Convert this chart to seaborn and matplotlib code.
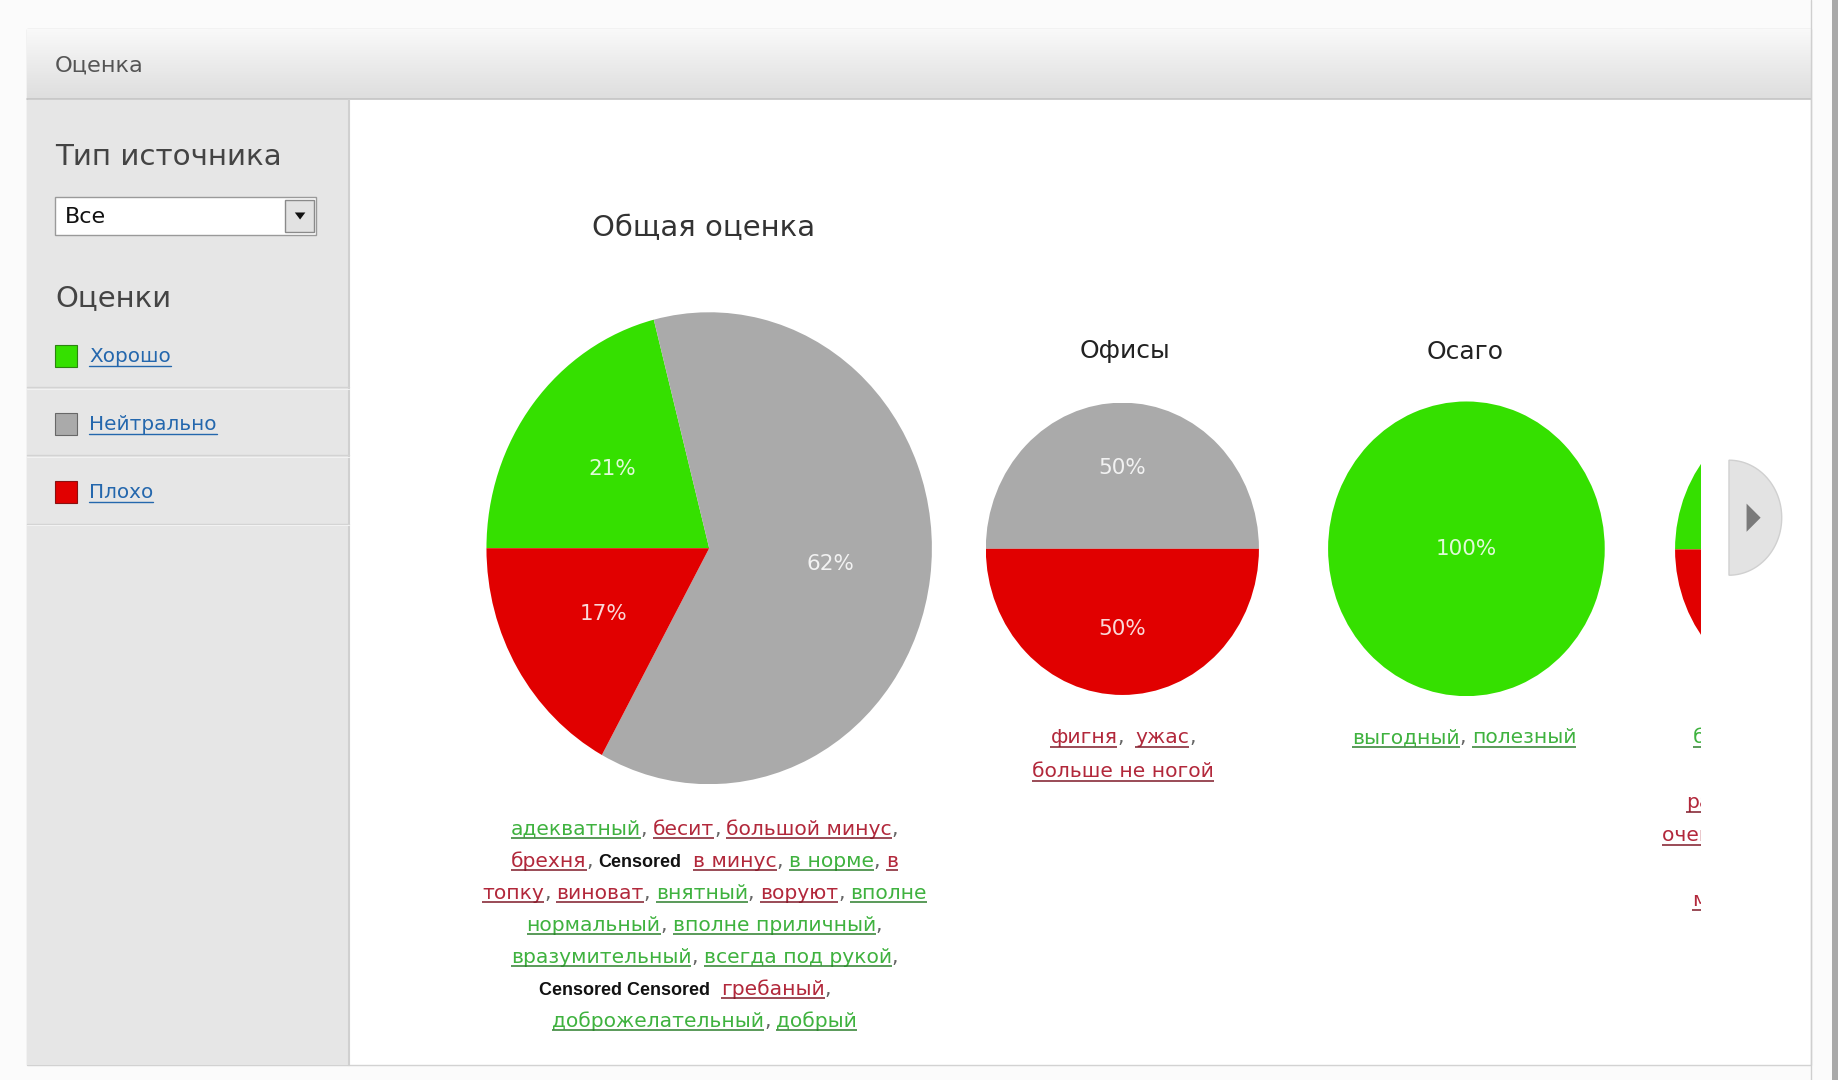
import numpy as np
import matplotlib
matplotlib.use("Agg")
import matplotlib.pyplot as plt
import seaborn as sns
from matplotlib.patches import Rectangle, Polygon
from matplotlib.colors import LinearSegmentedColormap
from matplotlib.transforms import Bbox

# ---------------- data ----------------
categories = ["Хорошо", "Нейтрально", "Плохо"]
pie_titles = ["Общая оценка", "Офисы", "Осаго", "Сервис"]
total_vals = [21, 62, 17]
offices_vals = [0, 50, 50]
osago_vals = [100, 0, 0]
fourth_vals = [50, 0, 50]
source_types = ["Все"]

total_keywords = [
    [("g", "адекватный"), ("p", ","), ("s", " "), ("r", "бесит"), ("p", ","), ("s", " "), ("r", "большой минус"), ("p", ",")],
    [("r", "брехня"), ("p", ","), ("s", " "), ("c", "Censored"), ("s", "  "), ("r", "в минус"), ("p", ","), ("s", " "), ("g", "в норме"), ("p", ","), ("s", " "), ("r", "в")],
    [("r", "топку"), ("p", ","), ("s", " "), ("r", "виноват"), ("p", ","), ("s", " "), ("g", "внятный"), ("p", ","), ("s", " "), ("r", "воруют"), ("p", ","), ("s", " "), ("g", "вполне")],
    [("g", "нормальный"), ("p", ","), ("s", " "), ("g", "вполне приличный"), ("p", ",")],
    [("g", "вразумительный"), ("p", ","), ("s", " "), ("g", "всегда под рукой"), ("p", ",")],
    [("c", "Censored Censored"), ("s", "  "), ("r", "гребаный"), ("p", ","), ("s", "       ")],
    [("g", "доброжелательный"), ("p", ","), ("s", " "), ("g", "добрый")],
]
offices_keywords = [
    [("r", "фигня"), ("p", ","), ("s", "  "), ("r", "ужас"), ("p", ",")],
    [("r", "больше не ногой")],
]
osago_keywords = [
    [("g", "выгодный"), ("p", ","), ("s", " "), ("g", "полезный")],
]
fourth_keywords = [
    [("g", "бесплатный"), ("p", ","), ("s", " "), ("g", "быстрый"), ("p", ",")],
    [("g", "выплатили"), ("p", ",")],
    [("r", "развод"), ("p", ","), ("s", " "), ("r", "разочарование"), ("p", ",")],
    [("r", "очень долго"), ("p", ","), ("s", " "), ("r", "отказываются"), ("p", ",")],
    [("r", "плохой"), ("p", ",")],
    [("r", "мошенники"), ("p", ","), ("s", " "), ("r", "медленно")],
]

# ---------------- style ----------------
sns.set_theme(style="white")
plt.rcParams["font.family"] = ["DejaVu Sans"]
palette = sns.color_palette(["#35e000", "#aaaaaa", "#e10000"])
cat_colors = dict(zip(categories, palette))

W, H = 1568, 920
SX = 1838 / W
SY = 1080 / H
fig = plt.figure(figsize=(18.38, 10.80), dpi=100, facecolor="#fbfbfb")
bg = fig.add_axes([0, 0, 1, 1])
bg.set_xlim(0, W)
bg.set_ylim(H, 0)
bg.axis("off")
renderer = fig.canvas.get_renderer()


def text_width(t):
    return t.get_window_extent(renderer).width / SX


# ---------------- page chrome ----------------
bg.add_patch(Rectangle((23, 25), 1522, 882, facecolor="white", edgecolor="#d2d2d2", lw=1.0, zorder=0))
hdr_cmap = LinearSegmentedColormap.from_list("hdr", ["#f9f9f9", "#dedede"])
bg.imshow(np.linspace(0, 1, 60).reshape(-1, 1), extent=(23, 1545, 84, 25), cmap=hdr_cmap,
          aspect="auto", zorder=1)
bg.plot([23, 1545], [84, 84], color="#c4c4c4", lw=1.2, zorder=2)
bg.text(47, 56, "Оценка", fontsize=16.2, color="#555555", va="center", ha="left", zorder=3)

# sidebar
bg.add_patch(Rectangle((23, 85), 275, 822, facecolor="#e6e6e6", edgecolor="none", zorder=1))
bg.plot([298, 298], [85, 907], color="#d0d0d0", lw=1.5, zorder=2)
bg.text(47, 134, "Тип источника", fontsize=21.2, color="#444444", va="center", ha="left", zorder=3)
bg.add_patch(Rectangle((47, 168), 223, 32, facecolor="white", edgecolor="#9a9a9a", lw=1, zorder=3))
bg.add_patch(Rectangle((243, 170), 25, 28, facecolor="#e2e2e2", edgecolor="#8a8a8a", lw=1, zorder=4))
bg.add_patch(Polygon([(251.5, 181), (260.5, 181), (256, 187)], closed=True, facecolor="#111111",
                     edgecolor="none", zorder=5))
bg.text(55, 185, source_types[0], fontsize=16, color="#111111", va="center", ha="left", zorder=4)
bg.text(47, 254, "Оценки", fontsize=21, color="#444444", va="center", ha="left", zorder=3)

for i, cat in enumerate(categories):
    yc = 303 + i * 58
    bg.add_patch(Rectangle((47, yc - 9.5), 19, 19, facecolor=cat_colors[cat],
                           edgecolor=sns.dark_palette(cat_colors[cat], 3)[1], lw=0.8, zorder=3))
    t = bg.text(76, yc + 5.5, cat, fontsize=14.4, color="#2467ad", va="baseline", ha="left", zorder=3)
    w = text_width(t)
    bg.plot([76, 76 + w], [yc + 8.5, yc + 8.5], color="#2467ad", lw=1.0, zorder=3)
    bg.plot([23, 298], [yc + 27, yc + 27], color="#d3d3d3", lw=1.0, zorder=2)
    bg.plot([23, 298], [yc + 28.5, yc + 28.5], color="#f2f2f2", lw=0.8, zorder=2)

# right edge details
bg.plot([1545, 1545], [0, 920], color="#cfcfcf", lw=1.0, zorder=2)
bg.add_patch(Rectangle((1563, 0), 6, 920, facecolor="#a9a9a9", edgecolor="none", zorder=2))

# ---------------- pies ----------------
def pie_axes(cx, cy, rx, ry, clip_right=None):
    right = cx + rx if clip_right is None else clip_right
    left = cx - rx
    ax = fig.add_axes([left / W, 1 - (cy + ry) / H, (right - left) / W, 2 * ry / H])
    return ax, (-1, -1 + (right - left) / rx)


def draw_pie(values, cx, cy, rx, ry, clip_right=None):
    ax, xl = pie_axes(cx, cy, rx, ry, clip_right)
    vals = [v for v in values if v > 0]
    cols = [cat_colors[c] for c, v in zip(categories, values) if v > 0]
    pd_ = 0.0 if len(vals) == 1 else 0.55
    wedges, texts, autotexts = ax.pie(
        vals, colors=cols, startangle=180, counterclock=False, radius=1.0,
        autopct=lambda p: f"{p:.0f}%", pctdistance=pd_,
        wedgeprops=dict(linewidth=0, edgecolor="none"),
        textprops=dict(color="white", alpha=0.85, fontsize=15.5))
    ax.set_aspect("auto")
    ax.set_xlim(*xl)
    ax.set_ylim(-1, 1)
    ax.axis("off")
    for wdg in wedges:
        wdg.set_clip_on(True)
        wdg.set_clip_path(ax.patch)
    for t in autotexts:
        t.set_clip_box(ax.bbox)
        t.set_clip_on(True)
    return ax


draw_pie(total_vals, 605, 467, 190, 201)
draw_pie(offices_vals, 957.5, 467.5, 116.5, 124.5)
draw_pie(osago_vals, 1251, 467.5, 118, 125.5)
draw_pie(fourth_vals, 1547, 468, 118, 125, clip_right=1451)

bg.text(600, 194, pie_titles[0], fontsize=21, color="#333333", ha="center", va="center", zorder=3)
bg.text(960, 299, pie_titles[1], fontsize=18, color="#222222", ha="center", va="center", zorder=3)
bg.text(1250, 300, pie_titles[2], fontsize=18, color="#222222", ha="center", va="center", zorder=3)

# next-arrow button (half ellipse) on top of everything
ov = fig.add_axes([0, 0, 1, 1])
ov.set_xlim(0, W)
ov.set_ylim(H, 0)
ov.axis("off")
ov.patch.set_alpha(0)
th = np.linspace(-np.pi / 2, np.pi / 2, 60)
btn = [(1475 + 45 * np.cos(a), 441 + 49 * np.sin(a)) for a in th]
ov.add_patch(Polygon(btn, closed=True, facecolor="#e3e3e3", edgecolor="#d0d0d0", lw=1, zorder=3))
ov.add_patch(Polygon([(1490, 429), (1490, 453), (1502, 441)], closed=True, facecolor="#7a7a7a",
                     edgecolor="none", zorder=4))

# ---------------- keywords ----------------
KW_FS = 14.6
KW_COL = {"g": ("#3fb23f", "#2c7f2c"), "r": ("#b2283b", "#7e1a28")}


def keyword_line(cx, y, tokens, clip=None):
    arts = []
    total = 0.0
    for kind, s in tokens:
        if kind == "s":
            arts.append((None, kind, 4.8 * len(s)))
            total += 4.8 * len(s)
            continue
        if kind == "c":
            t = bg.text(0, y, s, fontsize=13, fontweight="bold", color="#111111",
                        family=["Liberation Sans Narrow", "Liberation Sans", "DejaVu Sans"],
                        ha="left", va="baseline", zorder=3)
        elif kind == "p":
            t = bg.text(0, y, s, fontsize=KW_FS, color="#666666", ha="left", va="baseline", zorder=3)
        else:
            t = bg.text(0, y, s, fontsize=KW_FS, color=KW_COL[kind][0], ha="left", va="baseline", zorder=3)
        w = text_width(t)
        arts.append((t, kind, w))
        total += w
    x = cx - total / 2
    for t, kind, w in arts:
        if t is not None:
            t.set_x(x)
            if clip is not None:
                t.set_clip_box(clip)
                t.set_clip_on(True)
            if kind in ("g", "r"):
                ln = bg.plot([x, x + w], [y + 3, y + 3], color=KW_COL[kind][1], lw=1.1,
                             solid_capstyle="butt", zorder=3)[0]
                if clip is not None:
                    ln.set_clip_box(clip)
                    ln.set_clip_on(True)
        x += w


for i, line in enumerate(total_keywords):
    keyword_line(601, 711 + i * 27.3, line)
for i, line in enumerate(offices_keywords):
    keyword_line(958, 633 + i * 29, line)
for i, line in enumerate(osago_keywords):
    keyword_line(1249, 633, line)

clip_bb = Bbox([[1300 * SX, (H - 800) * SY], [1451 * SX, (H - 600) * SY]])
for i, line in enumerate(fourth_keywords):
    keyword_line(1547, 633 + i * 27.8, line, clip=clip_bb)

bg.set_xlim(0, W)
bg.set_ylim(H, 0)
fig.savefig("out.png", dpi=100, facecolor=fig.get_facecolor())
